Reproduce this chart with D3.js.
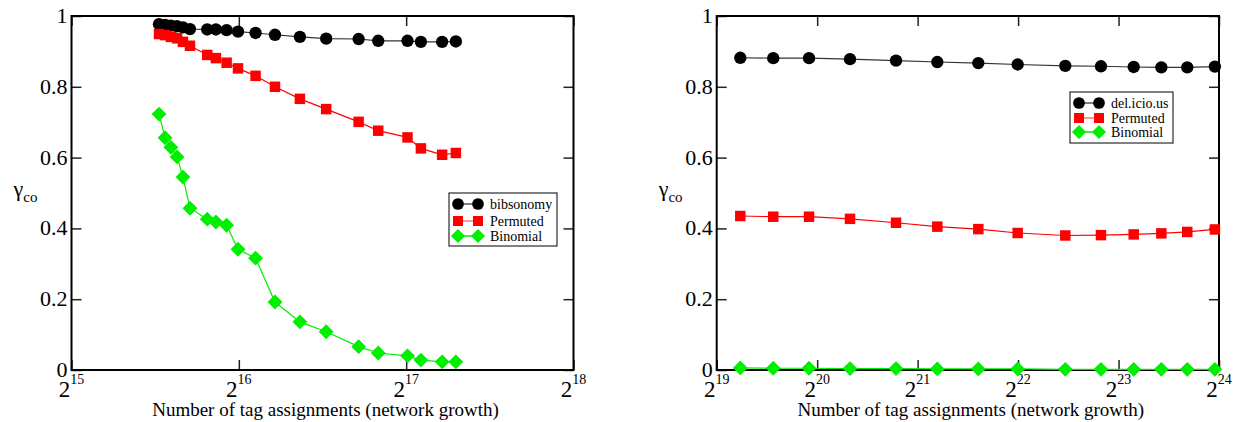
<!DOCTYPE html>
<html>
<head>
<meta charset="utf-8">
<script src="https://d3js.org/d3.v7.min.js"></script>
<style>
  body { margin: 0; background: #fff; }
  svg text { font-family: "Liberation Serif", "DejaVu Serif", "Noto Serif", serif; }
</style>
</head>
<body>
<div id="chart"></div>
<script>
// ---- data (x given as log2 of tag assignments) ----
var leftExp = [15.523, 15.559, 15.594, 15.631, 15.666, 15.708, 15.811, 15.863, 15.927, 15.995,
               16.100, 16.216, 16.365, 16.522, 16.716, 16.833, 17.008, 17.088, 17.215, 17.297];
var bibsonomy = [0.977, 0.975, 0.973, 0.971, 0.968, 0.963, 0.962, 0.962, 0.960, 0.956,
                 0.952, 0.947, 0.941, 0.936, 0.935, 0.930, 0.930, 0.927, 0.927, 0.928];
var leftPermuted = [0.949, 0.946, 0.941, 0.937, 0.927, 0.916, 0.890, 0.881, 0.868, 0.852,
                    0.831, 0.800, 0.766, 0.737, 0.701, 0.676, 0.657, 0.626, 0.608, 0.613];
var leftBinomial = [0.723, 0.656, 0.629, 0.602, 0.545, 0.457, 0.426, 0.418, 0.409, 0.341,
                    0.316, 0.192, 0.136, 0.108, 0.066, 0.048, 0.040, 0.028, 0.023, 0.023];

var rightExp = [19.235, 19.563, 19.919, 20.327, 20.785, 21.196, 21.604,
                21.996, 22.470, 22.825, 23.151, 23.426, 23.684, 23.959];
var delicious = [0.882, 0.881, 0.881, 0.878, 0.874, 0.870, 0.867,
                 0.863, 0.859, 0.858, 0.856, 0.855, 0.855, 0.857];
var rightPermuted = [0.435, 0.433, 0.433, 0.427, 0.416, 0.405, 0.398,
                     0.387, 0.380, 0.381, 0.383, 0.386, 0.390, 0.397];
var rightBinomial = [0.006, 0.005, 0.005, 0.004, 0.004, 0.003, 0.003,
                     0.003, 0.002, 0.002, 0.002, 0.002, 0.002, 0.002];

var yTicks = [0, 0.2, 0.4, 0.6, 0.8, 1];
var leftPowers = [15, 16, 17, 18];
var rightPowers = [19, 20, 21, 22, 23, 24];
var xTitle = "Number of tag assignments (network growth)";

var width = 1239, height = 422;

var svg = d3.select("#chart").append("svg")
    .attr("width", width)
    .attr("height", height);

// squares rotated by 45 degrees, as in the original plot
var diamond = {
  draw: function(ctx, size) {
    var r = Math.sqrt(size / 2);
    ctx.moveTo(0, -r); ctx.lineTo(r, 0); ctx.lineTo(0, r); ctx.lineTo(-r, 0); ctx.closePath();
  }
};

function drawPanel(p) {
  var x = d3.scaleLog().base(2)
      .domain([Math.pow(2, p.powers[0]), Math.pow(2, p.powers[p.powers.length - 1])])
      .range([p.left, p.right]);
  var y = d3.scaleLinear().domain([0, 1]).range([p.bottom, p.top]);
  var tickVals = p.powers.map(function(e) { return Math.pow(2, e); });

  var g = svg.append("g");

  // inward ticks on all four sides
  var ax = [
    [d3.axisBottom(x), p.bottom, null, tickVals],
    [d3.axisTop(x), p.top, null, tickVals],
    [d3.axisLeft(y), null, p.left, yTicks],
    [d3.axisRight(y), null, p.right, yTicks]
  ];
  ax.forEach(function(a) {
    var axisG = g.append("g")
        .attr("transform", a[1] !== null ? "translate(0," + a[1] + ")" : "translate(" + a[2] + ",0)")
        .call(a[0].tickValues(a[3]).tickSize(-10).tickFormat(""));
    axisG.select(".domain").remove();
    axisG.selectAll(".tick line").attr("stroke", "#222").attr("stroke-width", 1.5);
  });

  // frame
  g.append("rect")
      .attr("x", p.left).attr("y", p.top)
      .attr("width", p.right - p.left).attr("height", p.bottom - p.top)
      .attr("fill", "none").attr("stroke", "#000").attr("stroke-width", 2);

  // y tick labels
  g.selectAll(".ylab").data(yTicks).enter().append("text")
      .attr("x", p.left - 4)
      .attr("y", function(d) { return y(d) + 7; })
      .attr("text-anchor", "end")
      .style("font-size", "22px")
      .text(function(d) { return d === 0 ? "0" : d === 1 ? "1" : d3.format(".1f")(d); });

  // x tick labels 2^n
  var xl = g.selectAll(".xlab").data(p.powers).enter().append("text")
      .attr("x", function(d) { return x(Math.pow(2, d)); })
      .attr("y", p.bottom + 27)
      .attr("text-anchor", "middle")
      .style("font-size", "23px");
  xl.append("tspan").text("2");
  xl.append("tspan").attr("dy", -13).style("font-size", "14px").text(function(d) { return d; });

  // axis titles
  g.append("text")
      .attr("x", (p.left + p.right) / 2 + 3)
      .attr("y", p.bottom + 46)
      .attr("text-anchor", "middle")
      .style("font-size", "19px")
      .text(xTitle);

  var yl = g.append("text")
      .attr("x", p.left - 58)
      .attr("y", 196)
      .style("font-size", "22px");
  yl.append("tspan").text("\u03b3");
  yl.append("tspan").attr("dy", 6).style("font-size", "15px").text("co");

  // series
  var line = d3.line()
      .x(function(d) { return x(Math.pow(2, d[0])); })
      .y(function(d) { return y(d[1]); });

  p.series.forEach(function(s) {
    var pts = p.exps.map(function(e, i) { return [e, s.values[i]]; });
    g.append("path").datum(pts)
        .attr("fill", "none").attr("stroke", s.line).attr("stroke-width", 1.2)
        .attr("d", line);
    g.selectAll(null).data(pts).enter().append("path")
        .attr("transform", function(d) { return "translate(" + x(Math.pow(2, d[0])) + "," + y(d[1]) + ")"; })
        .attr("d", d3.symbol().type(s.symbol).size(s.size))
        .attr("fill", s.color);
  });

  // legend
  var lg = g.append("g").attr("transform", "translate(" + p.legend.x + "," + p.legend.y + ")");
  lg.append("rect")
      .attr("width", p.legend.w).attr("height", p.legend.h)
      .attr("fill", "#fff").attr("stroke", "#000").attr("stroke-width", 1);
  p.series.forEach(function(s, i) {
    var ly = p.legend.rows[i];
    lg.append("line")
        .attr("x1", 9).attr("x2", 29).attr("y1", ly).attr("y2", ly)
        .attr("stroke", s.legendLine).attr("stroke-width", 1.5);
    [9, 29].forEach(function(lx) {
      lg.append("path")
          .attr("transform", "translate(" + lx + "," + ly + ")")
          .attr("d", d3.symbol().type(s.symbol).size(s.size * 0.9))
          .attr("fill", s.color);
    });
    lg.append("text")
        .attr("x", 41).attr("y", ly + 5)
        .style("font-size", "14px")
        .text(s.name);
  });
}

function seriesFor(first, blackVals, redVals, greenVals) {
  return [
    { name: first, values: blackVals, color: "#000", line: "#333", legendLine: "#555",
      symbol: d3.symbolCircle, size: 120 },
    { name: "Permuted", values: redVals, color: "#ff0000", line: "#ff0000", legendLine: "#f77",
      symbol: d3.symbolSquare, size: 110 },
    { name: "Binomial", values: greenVals, color: "#00ee00", line: "#00ee00", legendLine: "#00ee00",
      symbol: diamond, size: 110 }
  ];
}

drawPanel({
  left: 71.5, right: 573.5, top: 16, bottom: 370,
  powers: leftPowers, exps: leftExp,
  series: seriesFor("bibsonomy", bibsonomy, leftPermuted, leftBinomial),
  legend: { x: 449, y: 193, w: 108, h: 53, rows: [11, 28, 43] }
});

drawPanel({
  left: 716.7, right: 1219, top: 16, bottom: 370,
  powers: rightPowers, exps: rightExp,
  series: seriesFor("del.icio.us", delicious, rightPermuted, rightBinomial),
  legend: { x: 1070, y: 92, w: 103, h: 51, rows: [11, 26, 40] }
});
</script>
</body>
</html>
